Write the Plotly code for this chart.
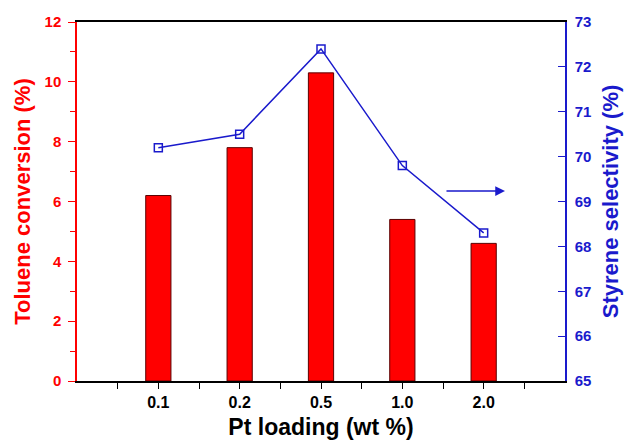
import plotly.graph_objects as go

categories = ["0.1", "0.2", "0.5", "1.0", "2.0"]
conversion = [6.2, 7.8, 10.3, 5.4, 4.6]
selectivity = [70.2, 70.5, 72.4, 69.8, 68.3]
positions = list(range(len(categories)))

RED = "#ff0000"
BLUE = "#1a1acc"
FONT = "Arial, Liberation Sans, sans-serif"

fig = go.Figure()
fig.add_trace(go.Bar(
    x=positions, y=conversion, width=0.31,
    marker=dict(color=RED, line=dict(color="#5a0000", width=1)),
    yaxis="y", showlegend=False,
))
fig.add_trace(go.Scatter(
    x=positions, y=selectivity, mode="lines+markers",
    line=dict(color=BLUE, width=1.5),
    marker=dict(symbol="square-open", size=8, color=BLUE, line=dict(width=1.5)),
    yaxis="y2", showlegend=False,
))

fig.update_layout(
    width=627, height=441,
    margin=dict(l=77, r=62, t=22, b=60, autoexpand=False),
    plot_bgcolor="white", paper_bgcolor="white",
    font=dict(family=FONT),
    xaxis=dict(
        range=[-1, 5], tickmode="array", tickvals=positions, ticktext=categories,
        ticks="outside", ticklen=6, tickcolor="black", tickwidth=1,
        minor=dict(tickmode="array", tickvals=[-0.5, 0.5, 1.5, 2.5, 3.5, 4.5],
                   ticks="outside", ticklen=6, tickcolor="black"),
        showline=True, linecolor="black", linewidth=1.5, mirror=True,
        showgrid=False, zeroline=False, automargin=False,
        tickfont=dict(size=16, color="black", family=FONT, weight="bold"),
        title=dict(text="<b>Pt loading (wt %)</b>", font=dict(size=23, color="black"), standoff=9),
    ),
    yaxis=dict(
        range=[0, 12], tickmode="array", tickvals=[0, 2, 4, 6, 8, 10, 12],
        ticks="outside", ticklen=7, tickcolor=RED, tickwidth=1,
        minor=dict(tickmode="array", tickvals=[1, 3, 5, 7, 9, 11],
                   ticks="outside", ticklen=5, tickcolor=RED),
        showline=True, linecolor=RED, linewidth=1.5,
        showgrid=False, zeroline=False, automargin=False,
        tickfont=dict(size=15, color=RED, family=FONT, weight="bold"),
        ticklabelstandoff=4,
        title=dict(text="<b>Toluene conversion (%)</b>", font=dict(size=22, color=RED), standoff=8),
    ),
    yaxis2=dict(
        range=[65, 73], tickmode="array", tickvals=list(range(65, 74)),
        overlaying="y", side="right",
        ticks="inside", ticklen=7, tickcolor=BLUE, tickwidth=1,
        showline=True, linecolor=BLUE, linewidth=1.5,
        showgrid=False, zeroline=False, automargin=False,
        tickfont=dict(size=15, color=BLUE, family=FONT, weight="bold"),
        ticklabelstandoff=5,
        title=dict(text="<b>Styrene selectivity (%)</b>", font=dict(size=22, color=BLUE), standoff=12),
    ),
    annotations=[dict(
        x=0.877, y=0.529, xref="paper", yref="paper",
        ax=-60, ay=0, axref="pixel", ayref="pixel",
        showarrow=True, arrowhead=2, arrowsize=1.3, arrowwidth=1.5,
        arrowcolor=BLUE, text="",
    )],
)

fig.write_html("out.html", config={"displayModeBar": False},
               post_script="document.body.style.margin='0';document.body.style.overflow='hidden';")
